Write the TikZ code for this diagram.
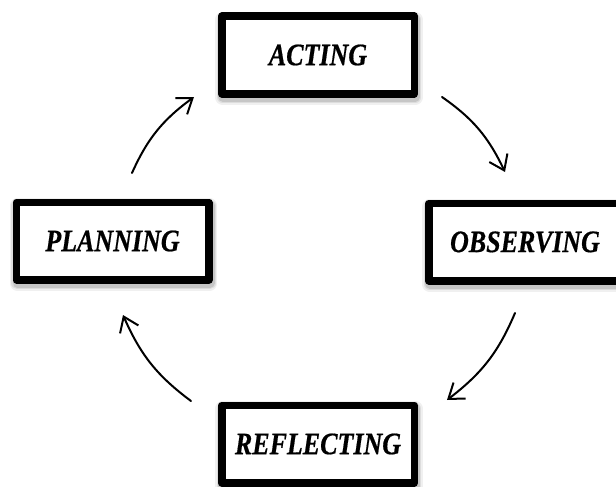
\documentclass[tikz,border=0pt]{standalone}
\usepackage{fontspec}
\setmainfont{Liberation Serif}
\newfontfamily\labelfont[FakeBold=0.6]{Liberation Serif}
\usetikzlibrary{arrows.meta,bending}
\newcommand{\boxlabel}[1]{\scalebox{1}[1.2]{#1}}
\begin{document}
\begin{tikzpicture}[x=1pt,y=1pt,
  box/.style={draw=black, line width=7.5pt, line join=round, fill=white,
    minimum width=192.5pt, minimum height=77.5pt, inner sep=0pt,
    font=\labelfont\fontsize{26}{30}\selectfont\bfseries\itshape,
    preaction={draw=black, opacity=0.06, line width=15pt, line join=round,
      transform canvas={xshift=1pt,yshift=-3.5pt}},
    preaction={draw=black, opacity=0.08, line width=12pt, line join=round,
      transform canvas={xshift=1pt,yshift=-3.5pt}},
    preaction={draw=black, opacity=0.10, line width=9.5pt, line join=round,
      transform canvas={xshift=1pt,yshift=-3pt}}},
  arr/.style={line width=2pt, line cap=round,
    -{Straight Barb[length=14pt,width=20pt,line width=2pt]}}]
\useasboundingbox (0,0) rectangle (616,-487);
\fill[white] (0,0) rectangle (616,-487);
\node[box] (act) at (318,-55) {\boxlabel{ACTING}};
\node[box] (plan) at (112.5,-241) {\boxlabel{PLANNING}};
\node[box] (obs) at (525,-242) {\boxlabel{OBSERVING}};
\node[box] (ref) at (318,-444) {\boxlabel{REFLECTING}};
\coordinate (a1s) at (132,-173);
\coordinate (a1e) at (194,-97);
\coordinate (a2s) at (442,-97);
\coordinate (a2e) at (505,-172);
\coordinate (a3s) at (515,-313);
\coordinate (a3e) at (447,-400);
\coordinate (a4s) at (191,-401);
\coordinate (a4e) at (123,-315);
\draw[arr] (a1s) to[bend left=15] (a1e);
\draw[arr] (a2s) to[bend left=15] (a2e);
\draw[arr] (a3s) to[bend left=15] (a3e);
\draw[arr] (a4s) to[bend left=15] (a4e);
\end{tikzpicture}
\end{document}
